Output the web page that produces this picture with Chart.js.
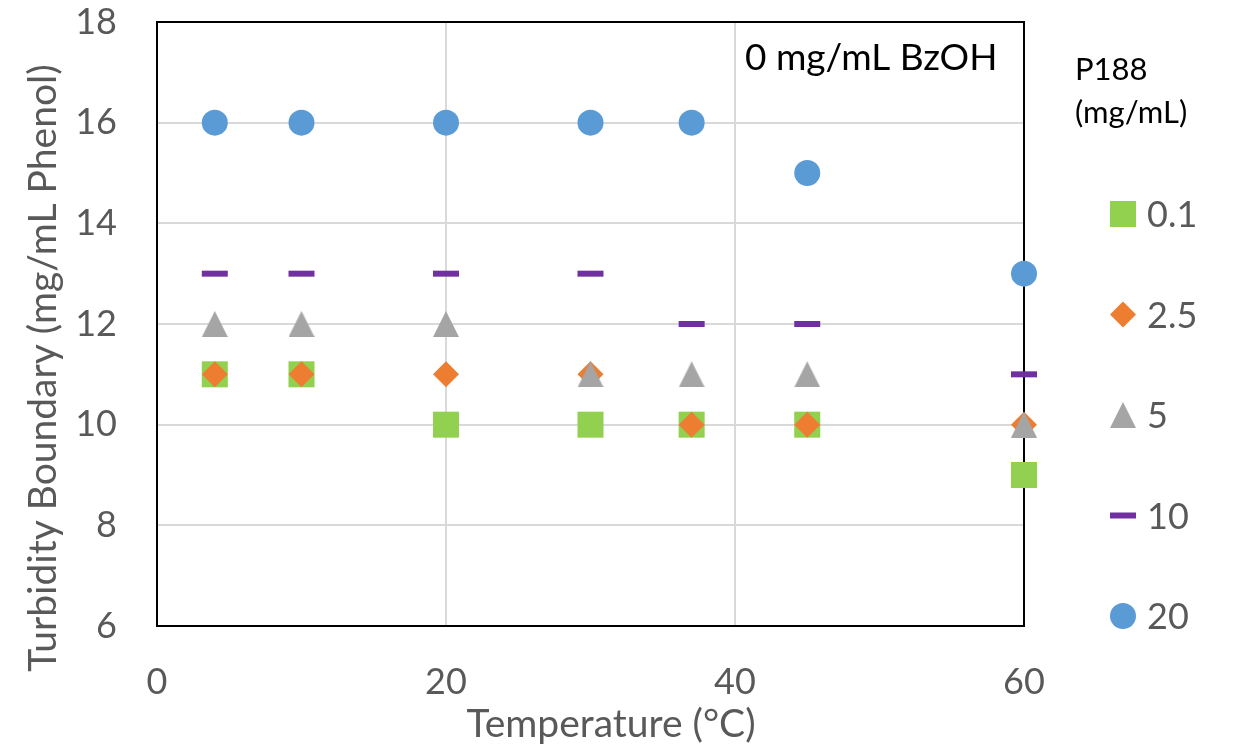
<!DOCTYPE html>
<html>
<head>
<meta charset="utf-8">
<title>Turbidity Boundary vs Temperature</title>
<script src="https://cdn.jsdelivr.net/npm/chart.js@4.4.1/dist/chart.umd.min.js"></script>
<style>
  html, body { margin: 0; padding: 0; background: #fff; }
  #wrap { width: 1237px; height: 747px; }
</style>
</head>
<body>
<div id="wrap"><canvas id="chart" width="1237" height="747"></canvas></div>
<script>
const temperatures = [4, 10, 20, 30, 37, 45, 60];
const p188Levels = ['0.1', '2.5', '5', '10', '20'];
const boundaryP01 = [11, 11, 10, 10, 10, 10, 9];
const boundaryP25 = [11, 11, 11, 11, 10, 10, 10];
const boundaryP5 = [12, 12, 12, 11, 11, 11, 10];
const boundaryP10 = [13, 13, 13, 13, 12, 12, 11];
const boundaryP20 = [16, 16, 16, 16, 16, 15, 13];
const xTicks = [0, 20, 40, 60];
const yTicks = [6, 8, 10, 12, 14, 16, 18];

const FONT = 'Lato, "Open Sans", sans-serif';
const AXIS_GREY = '#595959';

function toPoints(values) {
  return temperatures.map((t, i) => ({ x: t, y: values[i] }));
}

function triangleMarker(color) {
  const c = document.createElement('canvas');
  c.width = 26;
  c.height = 26;
  const g = c.getContext('2d');
  g.fillStyle = color;
  g.beginPath();
  g.moveTo(13, 0);
  g.lineTo(26, 26);
  g.lineTo(0, 26);
  g.closePath();
  g.fill();
  return c;
}

const markers = [
  { color: '#92d050', style: 'rect', radius: 18.4, border: 0 },
  { color: '#ed7d31', style: 'rectRot', radius: 13, border: 0 },
  { color: '#a5a5a5', style: triangleMarker('#a5a5a5'), radius: 13, border: 0 },
  { color: '#7030a0', style: 'line', radius: 13, border: 6 },
  { color: '#5b9bd5', style: 'circle', radius: 13, border: 0 },
];
const seriesValues = [boundaryP01, boundaryP25, boundaryP5, boundaryP10, boundaryP20];

const datasets = p188Levels.map((label, i) => ({
  label,
  data: toPoints(seriesValues[i]),
  showLine: false,
  clip: false,
  order: p188Levels.length - i,
  pointStyle: markers[i].style,
  pointRadius: markers[i].radius,
  pointBackgroundColor: markers[i].color,
  pointBorderColor: markers[i].color,
  pointBorderWidth: markers[i].border,
}));

// no extra room for the edge tick labels, the layout padding handles that
function noEdgePadding(scale) {
  scale.paddingTop = 0;
  scale.paddingBottom = 0;
  scale.paddingLeft = 0;
  scale.paddingRight = 0;
}

const decorations = {
  id: 'decorations',
  beforeDatasetsDraw(chart) {
    const { ctx, chartArea: a } = chart;
    ctx.save();
    ctx.strokeStyle = '#000';
    ctx.lineWidth = 2;
    ctx.strokeRect(a.left, a.top, a.right - a.left, a.bottom - a.top);
    ctx.restore();
  },
  afterDraw(chart) {
    const { ctx } = chart;
    ctx.save();

    // axis titles
    ctx.fillStyle = AXIS_GREY;
    ctx.font = '39px ' + FONT;
    ctx.textAlign = 'center';
    ctx.textBaseline = 'alphabetic';
    ctx.fillText('Temperature (°C)', 611, 737);
    ctx.save();
    ctx.translate(56, 368);
    ctx.rotate(-Math.PI / 2);
    ctx.fillText('Turbidity Boundary (mg/mL Phenol)', 0, 0);
    ctx.restore();

    // annotation
    ctx.fillStyle = '#000';
    ctx.textAlign = 'left';
    ctx.font = '37px ' + FONT;
    ctx.fillText('0 mg/mL BzOH', 745, 70);

    // legend
    ctx.font = '31px ' + FONT;
    ctx.fillText('P188', 1075, 80);
    ctx.fillText('(mg/mL)', 1075, 123);

    ctx.font = '36px ' + FONT;
    chart.data.datasets.forEach((ds, i) => {
      const cy = 214 + i * 100.5;
      ctx.fillStyle = ds.pointBackgroundColor;
      ctx.strokeStyle = ds.pointBorderColor;
      ctx.lineWidth = ds.pointBorderWidth;
      Chart.helpers.drawPoint(ctx, {
        pointStyle: ds.pointStyle,
        radius: ds.pointRadius,
        borderWidth: ds.pointBorderWidth,
        rotation: 0,
      }, 1123, cy);
      ctx.fillStyle = AXIS_GREY;
      ctx.fillText(ds.label, 1147, cy + 13);
    });
    ctx.restore();
  },
};

new Chart(document.getElementById('chart'), {
  type: 'scatter',
  data: { datasets },
  plugins: [decorations],
  options: {
    responsive: false,
    animation: false,
    events: [],
    layout: { padding: { left: 0, right: 213, top: 22, bottom: 0 } },
    plugins: {
      legend: { display: false },
      tooltip: { enabled: false },
    },
    scales: {
      x: {
        type: 'linear',
        min: xTicks[0],
        max: xTicks[xTicks.length - 1],
        afterBuildTicks(scale) { scale.ticks = xTicks.map((v) => ({ value: v })); },
        afterFit(scale) { scale.height = 121; noEdgePadding(scale); },
        border: { display: false },
        grid: { color: '#d9d9d9', lineWidth: 2, drawTicks: false },
        ticks: {
          padding: 35,
          color: AXIS_GREY,
          font: { family: FONT, size: 36 },
        },
      },
      y: {
        type: 'linear',
        min: yTicks[0],
        max: yTicks[yTicks.length - 1],
        afterBuildTicks(scale) { scale.ticks = yTicks.map((v) => ({ value: v })); },
        afterFit(scale) { scale.width = 157; noEdgePadding(scale); },
        border: { display: false },
        grid: { color: '#d9d9d9', lineWidth: 2, drawTicks: false },
        ticks: {
          padding: 40,
          color: AXIS_GREY,
          font: { family: FONT, size: 36 },
        },
      },
    },
  },
});
</script>
</body>
</html>
